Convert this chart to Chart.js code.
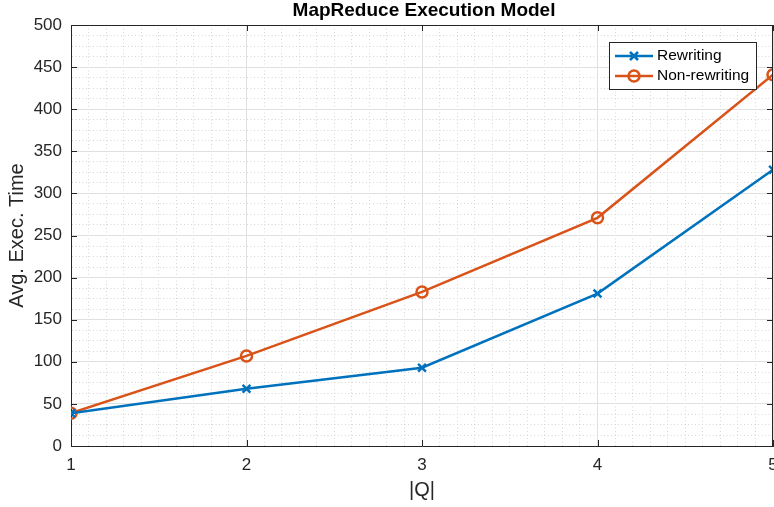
<!DOCTYPE html>
<html>
<head>
<meta charset="utf-8">
<script src="https://cdn.jsdelivr.net/npm/chart.js@4"></script>
<style>
  html, body { margin: 0; padding: 0; background: #fff; overflow: hidden; }
  #wrap { width: 774px; height: 507px; overflow: hidden; }
</style>
</head>
<body>
<div id="wrap"><canvas id="chart" width="844" height="507"></canvas></div>
<script>
// values
const queries = [1, 2, 3, 4, 5];
const rewriting = [39, 68, 93, 181, 328];
const nonRewriting = [39, 107, 183, 271, 441];
const yTicks = [0, 50, 100, 150, 200, 250, 300, 350, 400, 450, 500];

const axisColor = "#262626";
const blue = "#0072BD";
const orange = "#D95319";
const fontFamily = "'Liberation Sans', Arial, sans-serif";

function isMajor(v, step) {
    const r = v / step;
    return Math.abs(r - Math.round(r)) < 1e-6;
}

function toPoints(xs, ys) {
    return xs.map((x, i) => ({ x: x, y: ys[i] }));
}

// title over the plot box, box around the plot, inward ticks, legend
const matlabAxes = {
    id: "matlabAxes",
    afterDatasetsDraw(chart) {
        const ctx = chart.ctx;
        const a = chart.chartArea;
        const xs = chart.scales.x;
        const ys = chart.scales.y;
        ctx.save();
        ctx.strokeStyle = axisColor;
        ctx.lineWidth = 1;
        ctx.beginPath();
        ctx.moveTo(a.left, a.top + 0.5);
        ctx.lineTo(a.right, a.top + 0.5);
        ctx.moveTo(a.right - 0.5, a.top);
        ctx.lineTo(a.right - 0.5, a.bottom);
        queries.forEach(q => {
            const px = Math.round(xs.getPixelForValue(q)) + 0.5;
            ctx.moveTo(px, a.bottom);
            ctx.lineTo(px, a.bottom - 6);
            ctx.moveTo(px, a.top);
            ctx.lineTo(px, a.top + 6);
        });
        yTicks.forEach(t => {
            const py = Math.round(ys.getPixelForValue(t)) + 0.5;
            ctx.moveTo(a.left, py);
            ctx.lineTo(a.left + 6, py);
            ctx.moveTo(a.right, py);
            ctx.lineTo(a.right - 6, py);
        });
        ctx.stroke();

        ctx.fillStyle = "#000";
        ctx.font = "bold 19px " + fontFamily;
        ctx.textAlign = "center";
        ctx.textBaseline = "middle";
        ctx.fillText("MapReduce Execution Model", (a.left + a.right) / 2 + 2, 11);
        ctx.restore();
    },
    afterDraw(chart) {
        const ctx = chart.ctx;
        const bx = 609.5, by = 42.5, bw = 147, bh = 47;
        ctx.save();
        ctx.fillStyle = "#fff";
        ctx.fillRect(bx, by, bw, bh);
        ctx.strokeStyle = axisColor;
        ctx.lineWidth = 1;
        ctx.strokeRect(bx, by, bw, bh);
        ctx.font = "15.5px " + fontFamily;
        ctx.textBaseline = "middle";
        chart.data.datasets.forEach((ds, i) => {
            const y = 56 + i * 20;
            ctx.strokeStyle = ds.borderColor;
            ctx.lineWidth = 2.5;
            ctx.beginPath();
            ctx.moveTo(615, y);
            ctx.lineTo(653, y);
            ctx.stroke();
            const cx = 634;
            ctx.beginPath();
            if (ds.pointStyle === "circle") {
                ctx.arc(cx, y, 5.5, 0, Math.PI * 2);
            } else {
                ctx.moveTo(cx - 4, y - 4); ctx.lineTo(cx + 4, y + 4);
                ctx.moveTo(cx - 4, y + 4); ctx.lineTo(cx + 4, y - 4);
            }
            ctx.stroke();
            ctx.fillStyle = "#000";
            ctx.fillText(ds.label, 657, y);
        });
        ctx.restore();
    }
};

new Chart(document.getElementById("chart"), {
    type: "line",
    plugins: [matlabAxes],
    data: {
        datasets: [
            {
                label: "Rewriting",
                data: toPoints(queries, rewriting),
                borderColor: blue,
                backgroundColor: blue,
                borderWidth: 2.5,
                pointStyle: "crossRot",
                pointRadius: 5.5,
                pointBorderWidth: 2.5,
                pointBackgroundColor: "transparent"
            },
            {
                label: "Non-rewriting",
                data: toPoints(queries, nonRewriting),
                borderColor: orange,
                backgroundColor: orange,
                borderWidth: 2.5,
                pointStyle: "circle",
                pointRadius: 5.5,
                pointBorderWidth: 2.5,
                pointBackgroundColor: "transparent"
            }
        ]
    },
    options: {
        responsive: false,
        animation: false,
        layout: { padding: { left: 0, right: 71, top: 25, bottom: 0 } },
        plugins: {
            legend: { display: false },
            tooltip: { enabled: false },
            title: { display: false }
        },
        scales: {
            x: {
                type: "linear",
                min: 1,
                max: 5,
                afterFit: scale => { scale.height = 61; },
                ticks: {
                    stepSize: 0.1,
                    autoSkip: false,
                    maxRotation: 0,
                    padding: 9,
                    color: axisColor,
                    font: { size: 17, family: fontFamily },
                    callback: v => isMajor(v, 1) ? String(Math.round(v)) : ""
                },
                grid: {
                    drawTicks: false,
                    color: ctx => isMajor(ctx.tick.value, 1) ? "#e0e0e0" : "#d6d6d6"
                },
                border: {
                    color: axisColor,
                    width: 1,
                    dash: ctx => isMajor(ctx.tick.value, 1) ? [] : [1, 2.5]
                },
                title: {
                    display: true,
                    text: "|Q|",
                    color: axisColor,
                    font: { size: 20, family: fontFamily, lineHeight: 1.2 },
                    padding: { top: 0, bottom: 5 }
                }
            },
            y: {
                type: "linear",
                min: 0,
                max: 500,
                afterFit: scale => { scale.width = 71; },
                ticks: {
                    stepSize: 12.5,
                    autoSkip: false,
                    padding: 9,
                    color: axisColor,
                    font: { size: 17, family: fontFamily },
                    callback: v => isMajor(v, 50) ? String(Math.round(v)) : ""
                },
                grid: {
                    drawTicks: false,
                    color: ctx => isMajor(ctx.tick.value, 50) ? "#e0e0e0" : "#d6d6d6"
                },
                border: {
                    color: axisColor,
                    width: 1,
                    dash: ctx => isMajor(ctx.tick.value, 50) ? [] : [1, 2.5]
                },
                title: {
                    display: true,
                    text: "Avg. Exec. Time",
                    color: axisColor,
                    font: { size: 20, family: fontFamily, lineHeight: 1.2 },
                    padding: { top: 5, bottom: 0 }
                }
            }
        }
    }
});
</script>
</body>
</html>
